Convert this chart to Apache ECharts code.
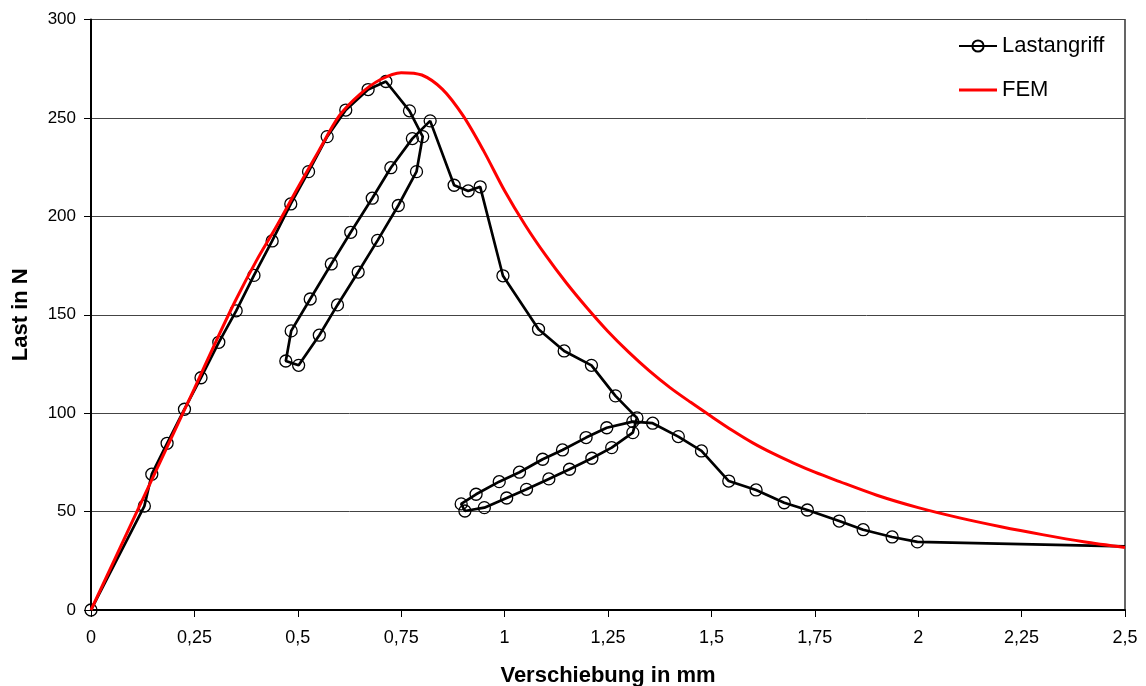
<!DOCTYPE html>
<html>
<head>
<meta charset="utf-8">
<script src="https://cdn.jsdelivr.net/npm/echarts@6/dist/echarts.min.js"></script>
<style>
  html, body { margin: 0; padding: 0; background: #fff; }
  #chart { width: 1146px; height: 686px; }
</style>
</head>
<body>
<div id="chart"></div>
<script>
// Messwerte Lastangriff (Verschiebung in mm / Last in N)
var lastX = [0, 0.129, 0.147, 0.184, 0.226, 0.266, 0.309, 0.351, 0.394, 0.438, 0.483, 0.526, 0.571, 0.616, 0.670, 0.713,
  0.770, 0.802, 0.787, 0.743, 0.693, 0.646, 0.596, 0.552, 0.502, 0.471, 0.484, 0.530, 0.581, 0.628, 0.680, 0.725, 0.777, 0.820,
  0.878, 0.912, 0.941, 0.996, 1.082, 1.144, 1.210, 1.268, 1.320,
  1.310, 1.259, 1.211, 1.157, 1.107, 1.053, 1.005, 0.951, 0.904, 0.895, 0.931, 0.987, 1.036, 1.092, 1.140, 1.197, 1.247, 1.310,
  1.358, 1.420, 1.476, 1.542, 1.608, 1.676, 1.732, 1.809, 1.867, 1.937, 1.998, 2.5];
var lastY = [0, 52.8, 69, 84.7, 102, 118, 136, 152, 170, 187.5, 206.3, 222.7, 240.5, 254, 264.4, 268.5,
  253.6, 240.5, 222.7, 205.5, 187.8, 171.7, 155, 139.6, 124.3, 126.5, 141.8, 158, 175.8, 191.9, 209.2, 224.7, 239.5, 248.5,
  215.8, 212.9, 215, 169.8, 142.6, 131.6, 124.3, 108.8, 97.6,
  90.1, 82.5, 77.1, 71.5, 66.6, 61.3, 56.9, 52, 50.3, 53.9, 58.8, 65.2, 70, 76.6, 81.3, 87.6, 92.6, 95.7,
  94.9, 88.1, 80.8, 65.5, 61, 54.5, 50.8, 45.2, 40.8, 37.1, 34.6, 32.3];

// FEM-Rechnung
var femX = [0, 0.1, 0.2, 0.25, 0.3, 0.35, 0.4, 0.45, 0.5, 0.55, 0.6, 0.65, 0.7, 0.75, 0.8, 0.85, 0.9, 0.95,
  1.0, 1.05, 1.1, 1.15, 1.2, 1.25, 1.3, 1.35, 1.4, 1.45, 1.5, 1.55, 1.6, 1.65, 1.7, 1.75, 1.8, 1.9, 2.0, 2.1, 2.2, 2.3, 2.4, 2.5];
var femY = [0, 45, 90, 112.5, 135.5, 157.5, 177.5, 195.5, 214.5, 233, 251, 262, 269.5, 273, 271.8, 264.5, 251, 233,
  213, 195.5, 180, 166, 153.3, 141.5, 131, 121.5, 113, 105.5, 98.3, 91.3, 84.9, 79.4, 74.5, 70, 66, 58.3, 52, 46.8, 42.3, 38.3, 34.7, 31.8];

var xTicks = { min: 0, max: 2.5, step: 0.25 };
var yTicks = { min: 0, max: 300, step: 50 };

var lastData = lastX.map(function (x, i) {
  var p = { value: [x, lastY[i]] };
  if (i === lastX.length - 1) p.symbol = 'none';
  return p;
});
var femData = femX.map(function (x, i) { return [x, femY[i]]; });

var font = 'Liberation Sans, Arial, sans-serif';
var chart = echarts.init(document.getElementById('chart'));
chart.setOption({
  animation: false,
  backgroundColor: '#fff',
  grid: {
    left: 91, right: 21, top: 19.5, bottom: 76,
    outerBoundsMode: 'none',
    show: true, borderColor: '#000', borderWidth: 1.2
  },
  legend: {
    orient: 'vertical',
    left: 958, top: 35,
    padding: 0,
    itemWidth: 38, itemHeight: 14, itemGap: 22,
    textStyle: { fontFamily: font, fontSize: 22, color: '#000' },
    data: [
      { name: 'Lastangriff' },
      { name: 'FEM', icon: 'path://M0,6 L38,6 L38,9 L0,9 Z' }
    ]
  },
  xAxis: {
    type: 'value',
    min: xTicks.min, max: xTicks.max, interval: xTicks.step,
    name: 'Verschiebung in mm',
    nameLocation: 'middle', nameGap: 55,
    nameTextStyle: { fontFamily: font, fontSize: 22, fontWeight: 'bold', color: '#000' },
    axisLine: { lineStyle: { color: '#000', width: 2 } },
    axisTick: { show: true, length: 7, lineStyle: { color: '#000', width: 1 } },
    axisLabel: {
      fontFamily: font, fontSize: 18, color: '#000', margin: 19,
      formatter: function (v) { return String(+v.toFixed(2)).replace('.', ','); }
    },
    splitLine: { show: false }
  },
  yAxis: {
    type: 'value',
    min: yTicks.min, max: yTicks.max, interval: yTicks.step,
    name: 'Last in N',
    nameLocation: 'middle', nameGap: 59,
    nameTextStyle: { fontFamily: font, fontSize: 22, fontWeight: 'bold', color: '#000' },
    axisLine: { show: true, lineStyle: { color: '#000', width: 2 } },
    axisTick: { show: true, length: 7, lineStyle: { color: '#000', width: 1 } },
    axisLabel: { fontFamily: font, fontSize: 17, color: '#000', margin: 15 },
    splitLine: { show: true, lineStyle: { color: '#444', width: 1 } }
  },
  series: [
    {
      name: 'Lastangriff',
      type: 'line',
      data: lastData,
      symbol: 'circle',
      symbolSize: 12,
      showAllSymbol: true,
      lineStyle: { color: '#000', width: 2.7 },
      itemStyle: { color: 'rgba(255,255,255,0)', borderColor: '#000', borderWidth: 1.3 },
      z: 2
    },
    {
      name: 'FEM',
      type: 'line',
      data: femData,
      smooth: 0.3,
      symbol: 'none',
      lineStyle: { color: '#ff0000', width: 3 },
      itemStyle: { color: '#ff0000' },
      z: 3
    }
  ]
});
</script>
</body>
</html>
